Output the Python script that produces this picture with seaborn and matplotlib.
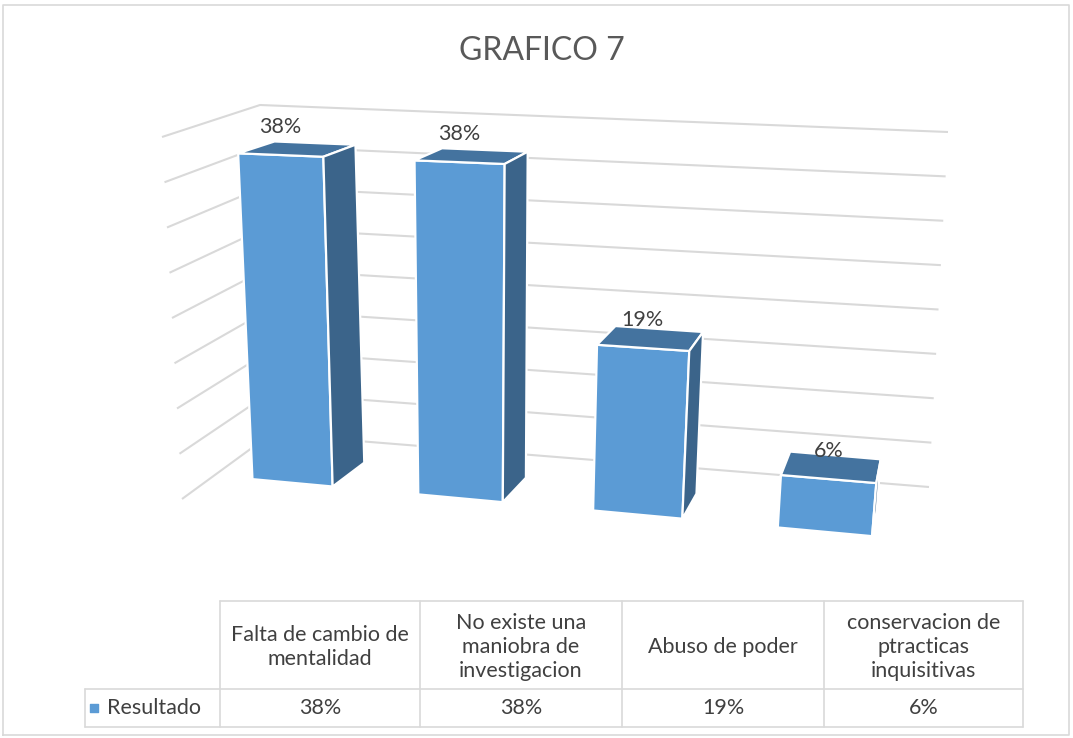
"""
GRAFICO 7 - barras 3D (estilo Excel) con tabla de datos
"""
import numpy as np
import pandas as pd
import matplotlib
matplotlib.use('Agg')
import matplotlib.pyplot as plt
import matplotlib.transforms as mtransforms
import seaborn as sns

# ── DATOS ────────────────────────────────────────────────────
titulo     = 'GRAFICO 7'
serie      = 'Resultado'
categorias = ['Falta de cambio de\nmentalidad',
              'No existe una\nmaniobra de\ninvestigacion',
              'Abuso de poder',
              'conservacion de\nptracticas\ninquisitivas']
valores    = [38, 38, 19, 6]
etiquetas  = ['38%', '38%', '19%', '6%']
niveles    = [0, 5, 10, 15, 20, 25, 30, 35, 40]   # lineas de division

# ── ESTILO / LAYOUT (pixeles de la figura) ───────────────────
AZUL, AZUL_TOP, AZUL_LADO = '#5B9BD5', '#44739F', '#3B648A'
GRIS_LINEA, GRIS_TEXTO = '#D9D9D9', '#404040'
ANCHO = 0.49

# perspectiva del plano frontal: (posicion categoria, valor) -> pixel
H = np.array([[156.0, -0.76, 292.3],
              [2.5, -8.874, 482.8],
              [-0.026, -0.0016, 1.0]])
# profundidad de las barras (fuga hacia arriba-derecha)
FUGA_X, FUGA_Y, PROF_X, PROF_Y = 965, -176, 0.05, 0.036
# pared del fondo y pared lateral (esquinas)
FONDO_SI, FONDO_SD = (260, 105), (948, 132)
FONDO_II, FONDO_ID = (271, 434), (929, 487)
LATERAL_S, LATERAL_I = (162, 137), (182, 499)
# tabla de datos
COL_X  = [220, 420, 622, 824, 1023]
FILA_Y = [601, 689, 727]
LEY_X  = 85


class Proyeccion(mtransforms.Transform):
    input_dims = 2
    output_dims = 2
    is_separable = False

    def __init__(self, matriz):
        super().__init__()
        self.matriz = np.asarray(matriz, float)

    def transform_non_affine(self, values):
        values = np.atleast_2d(np.asarray(values, float))
        h = np.column_stack([values, np.ones(len(values))]) @ self.matriz.T
        return h[:, :2] / h[:, 2:]


def profundidad(pts):
    pts = np.asarray(pts, float)
    return pts + np.column_stack([PROF_X * (FUGA_X - pts[:, 0]),
                                  PROF_Y * (FUGA_Y - pts[:, 1])])


def lerp(a, b, t):
    return (a[0] + (b[0] - a[0]) * t, a[1] + (b[1] - a[1]) * t)


sns.set_theme(style='white')
plt.rcParams['font.family'] = ['Lato', 'DejaVu Sans']

fig = plt.figure(figsize=(10.73, 7.38), dpi=100)
ax = fig.add_axes([0, 0, 1, 1])

# ── BARRAS (cara frontal con seaborn) ────────────────────────
df = pd.DataFrame({'categoria': categorias, 'valor': valores})
sns.barplot(data=df, x='categoria', y='valor', color=AZUL, saturation=1,
            width=ANCHO, edgecolor='white', linewidth=1.6, errorbar=None,
            ax=ax, zorder=3)

proy = Proyeccion(H)
barras = list(ax.patches)
for p, etq in zip(barras, etiquetas):
    p.set_transform(proy + ax.transData)
    x0, x1, h = p.get_x(), p.get_x() + p.get_width(), p.get_height()
    bi, bd, si, sd = proy.transform_non_affine([[x0, 0], [x1, 0], [x0, h], [x1, h]])
    si_f, sd_f, bd_f = profundidad([si, sd, bd])
    # tapa y lateral
    ax.fill([si[0], sd[0], sd_f[0], si_f[0]], [si[1], sd[1], sd_f[1], si_f[1]],
            color=AZUL_TOP, ec='white', lw=1.6, zorder=3)
    ax.fill([sd[0], bd[0], bd_f[0], sd_f[0]], [sd[1], bd[1], bd_f[1], sd_f[1]],
            color=AZUL_LADO, ec='white', lw=1.6, zorder=3)
    cx, cy = proy.transform_non_affine([[(x0 + x1) / 2, h]])[0]
    ax.text(cx, cy - 28, etq, ha='center', va='center', fontsize=15.5,
            color=GRIS_TEXTO, zorder=5)

# ── PAREDES / LINEAS DE DIVISION ─────────────────────────────
top = max(niveles)
for nv in niveles:
    t = nv / top
    a = lerp(FONDO_II, FONDO_SI, t)
    b = lerp(FONDO_ID, FONDO_SD, t)
    c = lerp(LATERAL_I, LATERAL_S, t)
    ax.plot([c[0], a[0], b[0]], [c[1], a[1], b[1]], color=GRIS_LINEA,
            lw=1.5, zorder=1, solid_capstyle='butt')

# ── TABLA DE DATOS ───────────────────────────────────────────
kw = dict(color=GRIS_LINEA, lw=1.2, zorder=1)
ax.plot([COL_X[0], COL_X[-1]], [FILA_Y[0], FILA_Y[0]], **kw)
for y in FILA_Y[1:]:
    ax.plot([LEY_X, COL_X[-1]], [y, y], **kw)
for x in COL_X:
    ax.plot([x, x], [FILA_Y[0], FILA_Y[2]], **kw)
ax.plot([LEY_X, LEY_X], [FILA_Y[1], FILA_Y[2]], **kw)

y_cab = (FILA_Y[0] + FILA_Y[1]) / 2 + 2
y_dat = (FILA_Y[1] + FILA_Y[2]) / 2
for i, (cat, etq) in enumerate(zip(categorias, etiquetas)):
    xm = (COL_X[i] + COL_X[i + 1]) / 2
    ax.text(xm, y_cab, cat, ha='center', va='center', fontsize=15.5,
            color=GRIS_TEXTO, linespacing=1.28)
    ax.text(xm, y_dat, etq, ha='center', va='center', fontsize=15.5,
            color=GRIS_TEXTO)
ax.scatter([LEY_X + 9], [y_dat], marker='s', s=40, color=AZUL, zorder=4)
ax.text(LEY_X + 22, y_dat, serie, ha='left', va='center', fontsize=15.5,
        color=GRIS_TEXTO)

# ── TITULO Y MARCO ───────────────────────────────────────────
ax.text(542, 51, titulo, ha='center', va='center', fontsize=23, color='#595959')
ax.plot([3, 3, 1069, 1069, 3], [735, 5, 5, 735, 735], color=GRIS_LINEA,
        lw=1.2, zorder=1)

ax.set_xlim(0, 1073)
ax.set_ylim(738, 0)
ax.axis('off')

plt.savefig('out.png', dpi=100)
plt.close()
